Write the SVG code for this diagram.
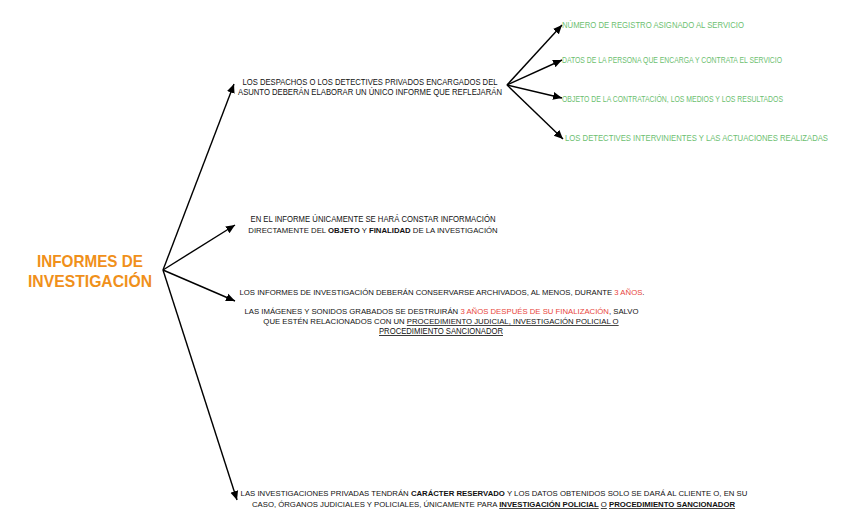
<svg xmlns="http://www.w3.org/2000/svg" width="848" height="528" viewBox="0 0 848 528">
<defs>
<marker id="ah" markerUnits="userSpaceOnUse" markerWidth="10" markerHeight="10" viewBox="0 0 10 10" refX="9" refY="5" orient="auto">
<path d="M0,1 L9,5 L0,9 z" fill="#000"/>
</marker>
<style>
.t{font-family:"Liberation Sans",Arial,sans-serif;font-size:8.3px;fill:#111}
.m{font-size:7.76px}
.g{fill:#6cc070}
.r{fill:#e8453c}
.b{font-weight:bold}
.u{text-decoration:underline}
.title{font-family:"Liberation Sans",Arial,sans-serif;font-size:16.5px;font-weight:bold;fill:#f0901a}
.c{stroke:#000;stroke-width:1.4;fill:none;marker-end:url(#ah)}
</style>
</defs>
<rect width="848" height="528" fill="#fff"/>
<g id="connectors">
<line class="c" x1="163" y1="270" x2="234" y2="84"/>
<line class="c" x1="163" y1="270" x2="235" y2="225"/>
<line class="c" x1="163" y1="270" x2="235" y2="301"/>
<line class="c" x1="163" y1="270" x2="237" y2="500"/>
<line class="c" x1="507" y1="85" x2="562" y2="25"/>
<line class="c" x1="507" y1="85" x2="562" y2="60"/>
<line class="c" x1="507" y1="85" x2="562" y2="98"/>
<line class="c" x1="507" y1="85" x2="563" y2="139"/>
</g>
<g id="root">
<text class="title" x="90" y="267" text-anchor="middle" textLength="106" lengthAdjust="spacingAndGlyphs">INFORMES DE</text>
<text class="title" x="90" y="287" text-anchor="middle" textLength="124" lengthAdjust="spacingAndGlyphs">INVESTIGACIÓN</text>
</g>
<g id="node1">
<text class="t" x="370" y="85" text-anchor="middle" textLength="255" lengthAdjust="spacingAndGlyphs">LOS DESPACHOS O LOS DETECTIVES PRIVADOS ENCARGADOS DEL</text>
<text class="t" x="370" y="95" text-anchor="middle" textLength="264" lengthAdjust="spacingAndGlyphs">ASUNTO DEBERÁN ELABORAR UN ÚNICO INFORME QUE REFLEJARÁN</text>
</g>
<g id="item1"><text class="t g" x="562" y="28" textLength="182" lengthAdjust="spacingAndGlyphs">NÚMERO DE REGISTRO ASIGNADO AL SERVICIO</text></g>
<g id="item2"><text class="t g" x="562" y="63" textLength="220" lengthAdjust="spacingAndGlyphs">DATOS DE LA PERSONA QUE ENCARGA Y CONTRATA EL SERVICIO</text></g>
<g id="item3"><text class="t g" x="562" y="102" textLength="221" lengthAdjust="spacingAndGlyphs">OBJETO DE LA CONTRATACIÓN, LOS MEDIOS Y LOS RESULTADOS</text></g>
<g id="item4"><text class="t g" x="565" y="141" textLength="263" lengthAdjust="spacingAndGlyphs">LOS DETECTIVES INTERVINIENTES Y LAS ACTUACIONES REALIZADAS</text></g>
<g id="node2">
<text class="t" x="373" y="222" text-anchor="middle" textLength="245" lengthAdjust="spacingAndGlyphs">EN EL INFORME ÚNICAMENTE SE HARÁ CONSTAR INFORMACIÓN</text>
<text class="t m" x="373" y="233" text-anchor="middle">DIRECTAMENTE DEL <tspan class="b">OBJETO</tspan> Y <tspan class="b">FINALIDAD</tspan> DE LA INVESTIGACIÓN</text>
</g>
<g id="node3">
<text class="t m" x="442" y="295" text-anchor="middle">LOS INFORMES DE INVESTIGACIÓN DEBERÁN CONSERVARSE ARCHIVADOS, AL MENOS, DURANTE <tspan class="r">3 AÑOS</tspan>.</text>
<text class="t m" x="441.5" y="314" text-anchor="middle">LAS IMÁGENES Y SONIDOS GRABADOS SE DESTRUIRÁN <tspan class="r">3 AÑOS DESPUÉS DE SU FINALIZACIÓN</tspan>, SALVO</text>
<text class="t m" x="441" y="324" text-anchor="middle">QUE ESTÉN RELACIONADOS CON UN <tspan class="u">PROCEDIMIENTO JUDICIAL, INVESTIGACIÓN POLICIAL O</tspan></text>
<text class="t u" x="441" y="334" text-anchor="middle" textLength="124" lengthAdjust="spacingAndGlyphs">PROCEDIMIENTO SANCIONADOR</text>
</g>
<g id="node4">
<text class="t m" x="494" y="496" text-anchor="middle">LAS INVESTIGACIONES PRIVADAS TENDRÁN <tspan class="b">CARÁCTER RESERVADO</tspan> Y LOS DATOS OBTENIDOS SOLO SE DARÁ AL CLIENTE O, EN SU</text>
<text class="t m" x="493.5" y="507" text-anchor="middle">CASO, ÓRGANOS JUDICIALES Y POLICIALES, ÚNICAMENTE PARA <tspan class="b u">INVESTIGACIÓN POLICIAL</tspan> <tspan class="u">O</tspan> <tspan class="b u">PROCEDIMIENTO SANCIONADOR</tspan></text>
</g>
</svg>
